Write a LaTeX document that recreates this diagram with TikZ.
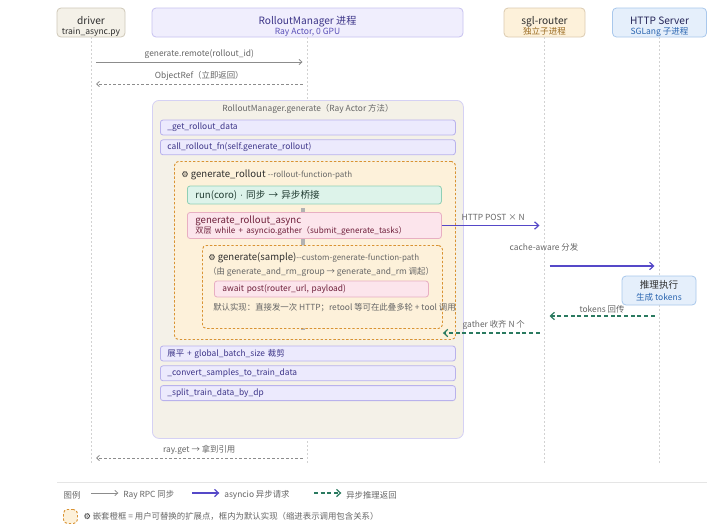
\documentclass[tikz,border=0pt]{standalone}
\usepackage{fontspec}
\setmainfont{Noto Sans CJK SC}
\newfontfamily\gearfont{DejaVu Sans}
\usetikzlibrary{arrows.meta,positioning}

\definecolor{inkgray}{HTML}{666666}
\definecolor{darkink}{HTML}{2E2E2E}
\definecolor{linegray}{HTML}{8C8C8C}
\definecolor{lifegray}{HTML}{D2D2D2}
\definecolor{creamfill}{HTML}{F4F1E8}
\definecolor{creamdraw}{HTML}{CFC8B8}
\definecolor{lavfill}{HTML}{ECEAFD}
\definecolor{lavdraw}{HTML}{B9B2EC}
\definecolor{lavtext}{HTML}{3C3488}
\definecolor{lavsub}{HTML}{5A50B8}
\definecolor{orfill}{HTML}{FDF1DA}
\definecolor{ordraw}{HTML}{D99333}
\definecolor{orsub}{HTML}{9A6A20}
\definecolor{grfill}{HTML}{DDF3EA}
\definecolor{grdraw}{HTML}{90CFB5}
\definecolor{grtext}{HTML}{1F3A30}
\definecolor{pkfill}{HTML}{FCE5EC}
\definecolor{pkdraw}{HTML}{E8AFC2}
\definecolor{pktext}{HTML}{6E1F3A}
\definecolor{blfill}{HTML}{E5EFFB}
\definecolor{bldraw}{HTML}{A9C8EC}
\definecolor{bltext}{HTML}{2A65B0}
\definecolor{asyncblue}{HTML}{5548C8}
\definecolor{retgreen}{HTML}{2A7A60}

\newcommand{\headsub}[2]{{\color{#1}\fontsize{6.4}{7.2}\selectfont #2}}
\newcommand{\headtext}[3]{\raisebox{-5.5pt}[0pt][0pt]{\begin{tabular}{@{}c@{}}#1\\[-1.2pt]\headsub{#2}{#3}\end{tabular}}}
\newcommand{\gear}{{\gearfont\color{darkink}\fontsize{6.2}{7}\selectfont ⚙}}

\begin{document}
\begin{tikzpicture}
    [x=0.75pt,y=-0.75pt,
    every node/.style={inner sep=0pt},
    head/.style={draw, line width=0.6pt, rounded corners=3pt, minimum height=21.75pt, align=center, text=darkink, font=\fontsize{7.6}{8.4}\selectfont},
    lbl/.style={text=inkgray, font=\fontsize{6.3}{7.5}\selectfont},
    row/.style={draw=lavdraw, fill=lavfill, line width=0.6pt, rounded corners=2pt, anchor=west, minimum height=11.25pt, text width=210.75pt, inner xsep=5.25pt, align=left, text=lavtext, font=\fontsize{6.3}{7.5}\selectfont},
    callbox/.style={line width=0.6pt, rounded corners=2pt, anchor=west, inner xsep=6pt, align=left, font=\fontsize{7.2}{7.6}\selectfont},
    extbox/.style={draw=ordraw, fill=orfill, line width=0.7pt, dash pattern=on 1.8pt off 1.4pt, rounded corners=3pt, anchor=north west},
    lifeline/.style={draw=lifegray, line width=0.6pt, dash pattern=on 1.5pt off 1.5pt},
    rpc/.style={draw=linegray, line width=0.6pt, -{Straight Barb[length=2.2pt,width=4pt]}},
    ret/.style={rpc, dash pattern=on 2pt off 1.5pt},
    async/.style={draw=asyncblue, line width=0.9pt, -{Straight Barb[length=3pt,width=5.5pt]}},
    back/.style={draw=retgreen, line width=0.9pt, dash pattern=on 3pt off 2pt, -{Straight Barb[length=3pt,width=5.5pt]}}]

    \useasboundingbox[fill=white] (0,0) rectangle (720,529);

    % participants
    \node[head, fill=creamfill, draw=creamdraw, minimum width=51pt] (driver) at (91,22.5) {\headtext{driver}{darkink}{train\_async.py}};
    \node[head, fill=lavfill!80, draw=lavdraw!80, minimum width=233.25pt, text=lavtext] (rm) at (307.5,22.5) {\headtext{RolloutManager 进程}{lavsub}{Ray Actor, 0 GPU}};
    \node[head, fill=orfill, draw=orsub!35, minimum width=60.75pt] (router) at (544.5,22.5) {\headtext{sgl-router}{orsub}{独立子进程}};
    \node[head, fill=blfill, draw=bldraw, minimum width=70.5pt, text=darkink!80!blue] (server) at (659.5,22.5) {\headtext{HTTP Server}{bltext}{SGLang 子进程}};

    \coordinate (lifeend) at (0,465);
    \foreach \p in {driver,rm,router,server}
        \draw[lifeline] (\p.south) -- (\p.south |- lifeend);

    \draw[rpc, shorten <=3.75pt, shorten >=3.75pt] (driver.south |- 0,62) -- node[lbl, above=2.5pt] {generate.remote(rollout\_id)} (rm.south |- 0,62);
    \draw[ret, shorten <=3.75pt, shorten >=3.75pt] (rm.south |- 0,84) -- node[lbl, above=2.5pt] {ObjectRef（立即返回）} (driver.south |- 0,84);

    % RolloutManager.generate
    \node[draw=lavdraw!60, fill=creamfill, line width=0.6pt, rounded corners=5pt, minimum width=233.25pt, minimum height=253.5pt, anchor=north west] (genbox) at (152,100) {};
    \node[lbl, below=3.2pt of genbox.north] (gentitle) {RolloutManager.generate（Ray Actor 方法）};
    \node[row] (getdata) at (160,127.5) {\_get\_rollout\_data};
    \node[row, below=3pt of getdata] (callfn) {call\_rollout\_fn(self.generate\_rollout)};

    \node[extbox, minimum width=210.75pt, minimum height=133.5pt] (rolloutbox) at (174,161) {};
    \node[anchor=west, text=darkink, font=\fontsize{7.2}{8}\selectfont] (rollouttitle) at (181,175) {\gear\ generate\_rollout {\color{inkgray}\fontsize{6}{7}\selectfont-{}-rollout-function-path}};
    \fill[gray!60] (301,208) rectangle (305,330);
    \node[callbox, draw=grdraw, fill=grfill, text=grtext, text width=178.5pt, minimum height=13.5pt] (runcoro) at (187,195) {run(coro) {\gearfont\fontsize{6}{7}\selectfont ·} 同步 → 异步桥接};
    \node[callbox, draw=pkdraw, fill=pkfill, text=pktext, text width=178.5pt, minimum height=19.5pt] (asyncgen) at (187,225.5) {generate\_rollout\_async\\[-0.5pt]{\fontsize{6.1}{7}\selectfont 双层 while + asyncio.gather（submit\_generate\_tasks）}};

    \node[extbox, minimum width=180pt, minimum height=62.25pt] (samplebox) at (202,245) {};
    \node[anchor=west, text=darkink, font=\fontsize{7.2}{8}\selectfont] (sampletitle) at (208,258) {\gear\ generate(sample){\color{inkgray}\fontsize{6}{7}\selectfont-{}-custom-generate-function-path}};
    \node[lbl, anchor=west] (samplecaller) at (208,272) {（由 generate\_and\_rm\_group → generate\_and\_rm 调起）};
    \node[callbox, draw=pkdraw, fill=pkfill, text=pktext, text width=148.5pt, minimum height=12pt, font=\fontsize{6.3}{7.5}\selectfont] (awaitpost) at (214,289) {await post(router\_url, payload)};
    \node[lbl, anchor=west] (samplenote) at (213,308) {默认实现：直接发一次 HTTP；retool 等可在此叠多轮 + tool 调用};

    \node[row] (flatten) at (160,353.5) {展平 + global\_batch\_size 裁剪};
    \node[row, below=3pt of flatten] (convert) {\_convert\_samples\_to\_train\_data};
    \node[row, below=3pt of convert] (split) {\_split\_train\_data\_by\_dp};

    % router / server
    \draw[async, shorten >=3.75pt] (asyncgen.east) -- node[lbl, above=3pt] {HTTP POST × N} (router.south |- asyncgen.east);
    \node[lbl] (cachelbl) at (544,247) {cache-aware 分发};
    \draw[async, shorten <=3.75pt, shorten >=3.75pt] (router.south |- 0,266) -- (server.south |- 0,266);
    \node[head, fill=blfill, draw=bldraw, minimum width=55.5pt, font=\fontsize{7.2}{8}\selectfont] (infer) at (659,290.5) {推理执行\\[1pt]\headsub{bltext}{生成 tokens}};
    \draw[back, shorten <=3.75pt, shorten >=3.75pt] (server.south |- 0,316) -- node[lbl, above=1.8pt] {tokens 回传} (router.south |- 0,316);
    \draw[back, shorten <=3.75pt] (router.south |- 0,333) -- node[lbl, above=1.8pt] {gather 收齐 N 个} (samplebox.east |- 0,333);

    \draw[ret, shorten <=3.75pt, shorten >=3.75pt] (rm.south |- 0,458) -- node[lbl, above=2.5pt] {ray.get → 拿到引用} (driver.south |- 0,458);

    % legend
    \draw[gray!20, line width=0.6pt] (57,482) -- (707,482);
    \node[lbl] (legtitle) at (72,495) {图例};
    \node[lbl, anchor=west] (legrpc) at (123,495) {Ray RPC 同步};
    \node[lbl, anchor=west] (legasync) at (224,495) {asyncio 异步请求};
    \node[lbl, anchor=west] (legback) at (346,495) {异步推理返回};
    \draw[rpc] ([shift={(-24pt,1.5pt)}]legrpc.west) -- ([shift={(-3.5pt,1.5pt)}]legrpc.west);
    \draw[async] ([shift={(-24pt,1.5pt)}]legasync.west) -- ([shift={(-3.5pt,1.5pt)}]legasync.west);
    \draw[back] ([shift={(-24pt,1.5pt)}]legback.west) -- ([shift={(-3.5pt,1.5pt)}]legback.west);
    \node[extbox, minimum width=10.5pt, minimum height=10.5pt] (legbox) at (63,509) {};
    \node[lbl, anchor=west, right=4pt of legbox] (legext) {\gear\ 嵌套橙框 = 用户可替换的扩展点，框内为默认实现（缩进表示调用包含关系）};
\end{tikzpicture}
\end{document}
